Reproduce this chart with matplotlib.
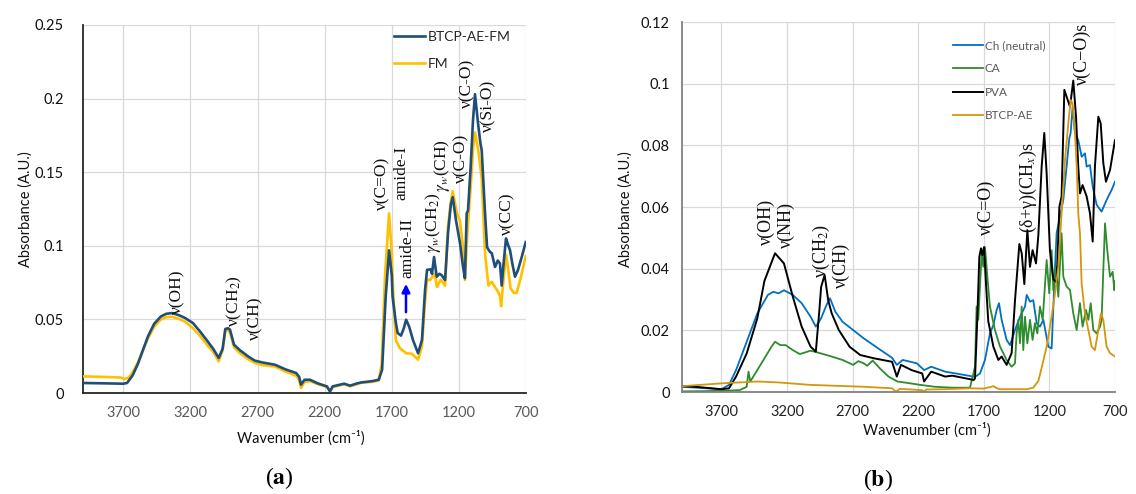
import matplotlib
matplotlib.use('Agg')
import matplotlib.pyplot as plt

plt.rcParams['font.family'] = ['Lato', 'DejaVu Sans']
plt.rcParams['mathtext.fontset'] = 'stix'

# ---------------- data: panel (a) ----------------
x_ticks = [3700, 3200, 2700, 2200, 1700, 1200, 700]
x_tick_labels = ['3700', '3200', '2700', '2200', '1700', '1200', '700']
ya_ticks = [0, 0.05, 0.1, 0.15, 0.2, 0.25]
ya_tick_labels = ['0', '0.05', '0.1', '0.15', '0.2', '0.25']
yb_ticks = [0, 0.02, 0.04, 0.06, 0.08, 0.1, 0.12]
yb_tick_labels = ['0', '0.02', '0.04', '0.06', '0.08', '0.1', '0.12']

btfm_x = [4000, 3800, 3700, 3672, 3630, 3590, 3550, 3516, 3470, 3420, 3380, 3337, 3290, 3240, 3181, 3130,
          3079, 3030, 2989, 2960, 2940, 2920, 2905, 2875, 2830, 2771, 2720, 2667, 2570, 2490, 2413, 2390,
          2376, 2350, 2309, 2250, 2183, 2160, 2140, 2055, 2010, 1960, 1925, 1850, 1797, 1772, 1745, 1720,
          1700, 1694, 1670, 1656, 1631, 1610, 1593, 1570, 1542, 1504, 1475, 1452, 1437, 1411, 1400, 1385,
          1365, 1345, 1328, 1303, 1281, 1260, 1246, 1221, 1192, 1169, 1155, 1142, 1132, 1112, 1095, 1080,
          1057, 1040, 1030, 1005, 990, 970, 955, 931, 910, 894, 881, 865, 849, 835, 819, 800, 782, 760, 730, 702]
btfm_y = [0.0068, 0.0065, 0.0063, 0.0068, 0.012, 0.020, 0.030, 0.0385, 0.047, 0.052, 0.0538, 0.0543, 0.053,
          0.051, 0.0475, 0.042, 0.036, 0.030, 0.0238, 0.030, 0.0435, 0.044, 0.043, 0.0328, 0.029, 0.0249,
          0.022, 0.0208, 0.0192, 0.016, 0.0136, 0.011, 0.0057, 0.009, 0.009, 0.0065, 0.0045, 0.001, 0.0045,
          0.0063, 0.005, 0.0065, 0.0072, 0.008, 0.009, 0.0158, 0.0656, 0.0969, 0.080, 0.0656, 0.048, 0.0407,
          0.039, 0.044, 0.0498, 0.045, 0.036, 0.027, 0.036, 0.070, 0.0837, 0.084, 0.081, 0.0924, 0.079, 0.081,
          0.080, 0.0767, 0.1086, 0.128, 0.133, 0.117, 0.102, 0.0856, 0.078, 0.122, 0.124, 0.154, 0.185, 0.203,
          0.183, 0.170, 0.165, 0.122, 0.099, 0.096, 0.095, 0.0856, 0.090, 0.088, 0.073, 0.090, 0.105, 0.101,
          0.097, 0.087, 0.079, 0.0835, 0.093, 0.1025]

fm_x = [4000, 3800, 3720, 3690, 3660, 3630, 3590, 3550, 3516, 3470, 3420, 3380, 3337, 3290, 3240, 3181, 3130,
        3079, 3030, 2989, 2960, 2940, 2920, 2905, 2875, 2830, 2771, 2720, 2667, 2570, 2490, 2413, 2390, 2376,
        2350, 2309, 2250, 2183, 2160, 2140, 2055, 2010, 1960, 1925, 1850, 1797, 1775, 1750, 1720, 1700, 1690,
        1670, 1640, 1593, 1550, 1504, 1475, 1452, 1437, 1415, 1381, 1363, 1335, 1303, 1281, 1260, 1246, 1214,
        1192, 1170, 1155, 1137, 1112, 1095, 1080, 1057, 1030, 1005, 980, 955, 931, 910, 895, 885, 865, 849,
        830, 815, 790, 770, 740, 702]
fm_y = [0.0113, 0.0108, 0.0105, 0.0095, 0.0105, 0.014, 0.021, 0.030, 0.037, 0.045, 0.050, 0.0515, 0.0518,
        0.0505, 0.0485, 0.044, 0.039, 0.033, 0.028, 0.0215, 0.029, 0.042, 0.043, 0.041, 0.031, 0.027, 0.023,
        0.0205, 0.019, 0.018, 0.0145, 0.0118, 0.009, 0.0034, 0.0075, 0.008, 0.006, 0.004, 0.0015, 0.004,
        0.006, 0.0045, 0.006, 0.007, 0.0075, 0.0085, 0.02, 0.08, 0.122, 0.095, 0.07, 0.036, 0.0305, 0.027,
        0.0267, 0.0226, 0.0317, 0.062, 0.077, 0.0767, 0.081, 0.072, 0.077, 0.073, 0.113, 0.130, 0.137, 0.122,
        0.117, 0.100, 0.0767, 0.1086, 0.140, 0.165, 0.177, 0.166, 0.146, 0.0946, 0.073, 0.0755, 0.072, 0.069,
        0.066, 0.059, 0.080, 0.094, 0.082, 0.071, 0.068, 0.068, 0.078, 0.093]

# ---------------- data: panel (b) ----------------
ch_x = [4000, 3850, 3700, 3642, 3588, 3507, 3426, 3345, 3304, 3264, 3223, 3156, 3088, 3020, 2980, 2940, 2899,
        2872, 2831, 2777, 2696, 2615, 2507, 2399, 2363, 2318, 2210, 2155, 2101, 1994, 1912, 1777, 1767, 1729,
        1691, 1653, 1627, 1602, 1584, 1564, 1526, 1500, 1462, 1424, 1386, 1373, 1348, 1323, 1297, 1272, 1246,
        1208, 1183, 1157, 1145, 1119, 1094, 1069, 1048, 1038, 1023, 1005, 980, 954, 929, 916, 891, 870, 840,
        802, 764, 726, 700]
ch_y = [0.0017, 0.0013, 0.0009, 0.0023, 0.0071, 0.0163, 0.0255, 0.0315, 0.0325, 0.032, 0.033, 0.0315, 0.0288,
        0.0244, 0.0212, 0.0239, 0.0282, 0.0304, 0.026, 0.0228, 0.0201, 0.0174, 0.0142, 0.0111, 0.0088, 0.0104,
        0.0093, 0.0071, 0.0082, 0.0066, 0.006, 0.005, 0.0049, 0.006, 0.0104, 0.019, 0.0217, 0.0266, 0.0288,
        0.0234, 0.0169, 0.0152, 0.0201, 0.0244, 0.0277, 0.0315, 0.0293, 0.0298, 0.0223, 0.0212, 0.0234, 0.0147,
        0.0141, 0.0406, 0.0515, 0.0569, 0.0623, 0.0731, 0.0823, 0.084, 0.0925, 0.084, 0.0817, 0.0763, 0.0774,
        0.0731, 0.0736, 0.0666, 0.0607, 0.0585, 0.0623, 0.0655, 0.0682]

ca_x = [4000, 3800, 3620, 3561, 3507, 3493, 3480, 3426, 3372, 3318, 3291, 3250, 3210, 3156, 3102, 3020, 2940,
        2859, 2777, 2696, 2656, 2615, 2588, 2547, 2493, 2426, 2358, 2290, 2183, 2074, 1939, 1805, 1767, 1755,
        1742, 1729, 1716, 1704, 1691, 1673, 1653, 1615, 1576, 1526, 1488, 1462, 1450, 1437, 1424, 1411, 1399,
        1386, 1368, 1348, 1328, 1310, 1292, 1272, 1251, 1221, 1201, 1183, 1170, 1150, 1132, 1107, 1094, 1069,
        1043, 1018, 992, 967, 947, 921, 903, 885, 865, 840, 814, 802, 789, 776, 759, 738, 718, 705, 700]
ca_y = [0.0002, 0.0003, 0.0005, 0.0006, 0.0017, 0.0066, 0.0034, 0.0071, 0.0109, 0.0147, 0.0163, 0.0152, 0.0152,
        0.0136, 0.0123, 0.0134, 0.0125, 0.0115, 0.0104, 0.0088, 0.010, 0.0093, 0.0085, 0.0102, 0.0077, 0.005,
        0.0034, 0.003, 0.0023, 0.0017, 0.0014, 0.0014, 0.0082, 0.0277, 0.0234, 0.0342, 0.045, 0.0406, 0.047,
        0.0374, 0.0277, 0.0201, 0.0147, 0.0104, 0.0082, 0.0093, 0.019, 0.0234, 0.0158, 0.0277, 0.0136, 0.0244,
        0.0158, 0.0234, 0.0169, 0.0223, 0.019, 0.0277, 0.0234, 0.0428, 0.032, 0.046, 0.033, 0.0406, 0.0309,
        0.0515, 0.0374, 0.0342, 0.0331, 0.0255, 0.0201, 0.0288, 0.0212, 0.0266, 0.0234, 0.0288, 0.0201, 0.019,
        0.0212, 0.0234, 0.0396, 0.0547, 0.046, 0.0374, 0.039, 0.033, 0.036]

pva_x = [4000, 3900, 3800, 3700, 3642, 3588, 3507, 3426, 3372, 3291, 3223, 3156, 3088, 3020, 2980, 2953, 2940,
         2913, 2886, 2859, 2805, 2723, 2642, 2534, 2399, 2363, 2331, 2250, 2169, 2155, 2101, 1994, 1940, 1777,
         1767, 1749, 1734, 1721, 1711, 1698, 1683, 1666, 1627, 1589, 1564, 1526, 1488, 1462, 1429, 1411, 1391,
         1368, 1348, 1328, 1302, 1284, 1259, 1239, 1221, 1196, 1170, 1145, 1124, 1107, 1086, 1069, 1043, 1018,
         997, 980, 967, 947, 916, 891, 870, 853, 827, 809, 789, 769, 738, 700]
pva_y = [0.0019, 0.0017, 0.0013, 0.0009, 0.0012, 0.005, 0.0125, 0.0239, 0.036, 0.045, 0.0417, 0.031, 0.0212,
         0.0147, 0.0131, 0.0266, 0.034, 0.038, 0.0298, 0.0255, 0.0201, 0.0147, 0.012, 0.0109, 0.0098, 0.005,
         0.0088, 0.0071, 0.006, 0.0034, 0.0066, 0.005, 0.0053, 0.0039, 0.0044, 0.0244, 0.0439, 0.0466, 0.0444,
         0.047, 0.035, 0.023, 0.0147, 0.0104, 0.0115, 0.0088, 0.0126, 0.0298, 0.048, 0.045, 0.035, 0.0525,
         0.0406, 0.046, 0.0417, 0.051, 0.0731, 0.084, 0.0709, 0.046, 0.0366, 0.0355, 0.0601, 0.0634, 0.098,
         0.0958, 0.0925, 0.101, 0.0893, 0.0731, 0.0644, 0.0671, 0.0634, 0.058, 0.0488, 0.0731, 0.0893, 0.0871,
         0.0742, 0.0682, 0.072, 0.0817]

btae_x = [4000, 3700, 3426, 3264, 3020, 2615, 2399, 2370, 2340, 2290, 2170, 2155, 2140, 2000, 1804, 1704, 1650,
          1627, 1600, 1576, 1373, 1323, 1284, 1259, 1221, 1183, 1157, 1132, 1107, 1081, 1056, 1038, 1023, 1005,
          992, 980, 967, 954, 929, 903, 878, 853, 827, 807, 789, 764, 738, 700]
btae_y = [0.0019, 0.0028, 0.0034, 0.0031, 0.0023, 0.0017, 0.0012, 0.0001, 0.0010, 0.0009, 0.0006, 0.0001,
          0.0008, 0.0009, 0.0012, 0.0011, 0.0016, 0.0019, 0.0012, 0.0009, 0.0009, 0.0014, 0.0036, 0.0079, 0.0147,
          0.0244, 0.032, 0.0406, 0.058, 0.0752, 0.0871, 0.0947, 0.0936, 0.084, 0.0731, 0.058, 0.0515, 0.035,
          0.0255, 0.0201, 0.0147, 0.0136, 0.0201, 0.0255, 0.0234, 0.0147, 0.0126, 0.0115]

# annotations (label, x, y-bottom)
ann_a = [('ν(OH)', 3300, 0.054), ('ν(CH$_2$)', 2875, 0.045), ('ν(CH)', 2719, 0.036),
         ('ν(C=O)', 1773, 0.124), ('amide-I', 1631, 0.131), ('amide-II', 1587, 0.078),
         ('$\\gamma_w$(CH$_2$)', 1393, 0.095), ('$\\gamma_w$(CH)', 1325, 0.1365),
         ('ν(C-O)', 1180, 0.1425), ('ν(C-O)', 1140, 0.1935), ('ν(Si-O)', 983, 0.177),
         ('ν(CC)', 842, 0.107)]
ann_b = [('ν(OH)', 3360, 0.0477), ('ν(NH)', 3208, 0.0467), ('ν(CH$_2$)', 2941, 0.037),
         ('ν(CH)', 2788, 0.0337), ('ν(C=O)', 1683, 0.051), ('(δ+γ)(CH$_x$)s', 1363, 0.0515),
         ('ν(C−O)s', 952, 0.0995)]

W, H = 1136, 494
fig = plt.figure(figsize=(W / 100, H / 100), dpi=100)


def rect(l, t, r, b):
    return [l / W, 1 - b / H, (r - l) / W, (b - t) / H]


axa = fig.add_axes(rect(83, 25, 526, 393))
axb = fig.add_axes(rect(682, 22, 1115, 392))


def style(ax, yt, ytl, ymax, spine_col, xcol, ypad):
    ax.set_xlim(4000, 700)
    ax.set_ylim(0, ymax)
    ax.set_xticks(x_ticks)
    ax.set_xticklabels(x_tick_labels)
    ax.set_yticks(yt)
    ax.set_yticklabels(ytl)
    ax.grid(True, color='#d9d9d9', lw=0.9)
    ax.set_axisbelow(True)
    for s in ['top', 'right']:
        ax.spines[s].set_visible(False)
    for s in ['left', 'bottom']:
        ax.spines[s].set_color(spine_col)
        ax.spines[s].set_linewidth(1.3)
    ax.tick_params(axis='both', length=0, labelsize=10.5)
    ax.tick_params(axis='x', pad=9, labelcolor=xcol)
    ax.tick_params(axis='y', pad=ypad, labelcolor='#111111')


style(axa, ya_ticks, ya_tick_labels, 0.25, '#262626', '#595959', 14)
style(axb, yb_ticks, yb_tick_labels, 0.12, '#808080', '#222222', 9)

axa.plot(fm_x, fm_y, color='#FFC000', lw=1.9, label='FM', zorder=3)
axa.plot(btfm_x, btfm_y, color='#1F4E79', lw=1.9, label='BTCP-AE-FM', zorder=4)
h, l = axa.get_legend_handles_labels()
leg = axa.legend([h[1], h[0]], [l[1], l[0]], loc='upper left',
                 bbox_to_anchor=(394 / W, 1 - 31 / H), bbox_transform=fig.transFigure,
                 frameon=False, fontsize=10, handlelength=2.2, handletextpad=0.25,
                 labelspacing=1.1, borderpad=0, borderaxespad=0)
for t in leg.get_texts():
    t.set_color('#262626')

axb.plot(ch_x, ch_y, color='#0070C0', lw=1.3, label='Ch (neutral)')
axb.plot(ca_x, ca_y, color='#2E8B2E', lw=1.3, label='CA')
axb.plot(pva_x, pva_y, color='#000000', lw=1.4, label='PVA')
axb.plot(btae_x, btae_y, color='#D4960C', lw=1.3, label='BTCP-AE')
legb = axb.legend(loc='upper left', bbox_to_anchor=(953 / W, 1 - 40 / H),
                  bbox_transform=fig.transFigure, frameon=False, fontsize=8.5,
                  handlelength=2.5, handletextpad=0.2, labelspacing=1.05,
                  borderpad=0, borderaxespad=0)
for t in legb.get_texts():
    t.set_color('#595959')

serif = ['Liberation Serif', 'DejaVu Serif']
for txt, x, y in ann_a:
    axa.text(x, y, txt, rotation=90, ha='center', va='bottom', fontsize=12.5,
             family=serif, color='#111111', zorder=6)
for txt, x, y in ann_b:
    axb.text(x, y, txt, rotation=90, ha='center', va='bottom', fontsize=13,
             family=serif, color='#111111', zorder=6)

axa.annotate('', xy=(1594, 0.076), xytext=(1594, 0.053),
             arrowprops=dict(arrowstyle='-|>', color='#0000FF', lw=1.8, mutation_scale=12))

fig.text(301 / W, 1 - 438 / H, 'Wavenumber (cm⁻¹)', ha='center', va='center', fontsize=10.5,
         color='#111111')
fig.text(927 / W, 1 - 430 / H, 'Wavenumber (cm⁻¹)', ha='center', va='center', fontsize=10.5,
         color='#111111')
fig.text(26 / W, 1 - 209 / H, 'Absorbance (A.U.)', rotation=90, ha='center', va='center',
         fontsize=10.5, color='#111111')
fig.text(626 / W, 1 - 209 / H, 'Absorbance (A.U.)', rotation=90, ha='center', va='center',
         fontsize=10.5, color='#111111')

fig.text(279 / W, 1 - 478 / H, '($\\mathbf{a}$)', ha='center', va='center', fontsize=17,
         family=serif)
fig.text(878 / W, 1 - 480 / H, '($\\mathbf{b}$)', ha='center', va='center', fontsize=17,
         family=serif)

fig.savefig('out.png', dpi=100)
